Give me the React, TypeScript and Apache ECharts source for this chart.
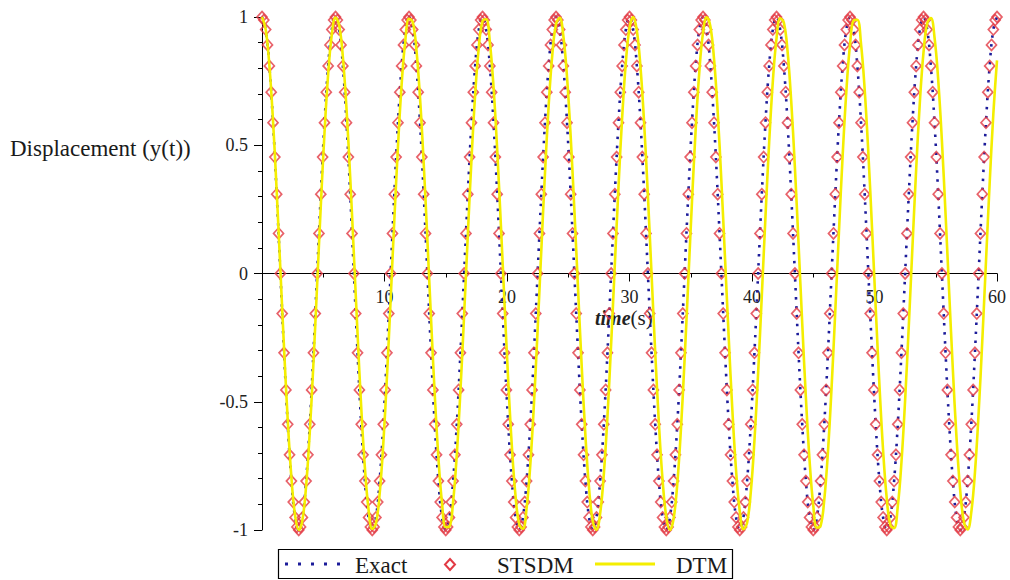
import React, { useEffect, useRef } from "react";
import * as echarts from "echarts";

// sampling steps (seconds) of each series
const EXACT_STEP = 0.3;
const STSDM_STEP = 0.15;
const DTM_STEP = 0.3;

// Exact solution, sampled every 0.3 s
const exactValues = [
  1,.951,.809,.588,.309,0,-.309,-.588,-.809,-.951,-1,-.951,-.809,-.588,-.309,0,.309,.588,.809,.951,
  1,.951,.809,.588,.309,0,-.309,-.588,-.809,-.951,-1,-.951,-.809,-.588,-.309,0,.309,.588,.809,.951,
  1,.951,.809,.588,.309,0,-.309,-.588,-.809,-.951,-1,-.951,-.809,-.588,-.309,0,.309,.588,.809,.951,
  1,.951,.809,.588,.309,0,-.309,-.588,-.809,-.951,-1,-.951,-.809,-.588,-.309,0,.309,.588,.809,.951,
  1,.951,.809,.588,.309,0,-.309,-.588,-.809,-.951,-1,-.951,-.809,-.588,-.309,0,.309,.588,.809,.951,
  1,.951,.809,.588,.309,0,-.309,-.588,-.809,-.951,-1,-.951,-.809,-.588,-.309,0,.309,.588,.809,.951,
  1,.951,.809,.588,.309,0,-.309,-.588,-.809,-.951,-1,-.951,-.809,-.588,-.309,0,.309,.588,.809,.951,
  1,.951,.809,.588,.309,0,-.309,-.588,-.809,-.951,-1,-.951,-.809,-.588,-.309,0,.309,.588,.809,.951,
  1,.951,.809,.588,.309,0,-.309,-.588,-.809,-.951,-1,-.951,-.809,-.588,-.309,0,.309,.588,.809,.951,
  1,.951,.809,.588,.309,0,-.309,-.588,-.809,-.951,-1,-.951,-.809,-.588,-.309,0,.309,.588,.809,.951,
  1,
];

// STSDM markers, every 0.15 s
const stsdmValues = [
  1,.988,.951,.891,.809,.707,.588,.454,.309,.156,0,-.156,-.309,-.454,-.588,-.707,-.809,-.891,-.951,-.988,-1,-.988,-.951,-.891,-.809,-.707,-.588,-.454,-.309,-.156,0,.156,.309,.454,.588,.707,.809,.891,.951,.988,
  1,.988,.951,.891,.809,.707,.588,.454,.309,.156,0,-.156,-.309,-.454,-.588,-.707,-.809,-.891,-.951,-.988,-1,-.988,-.951,-.891,-.809,-.707,-.588,-.454,-.309,-.156,0,.156,.309,.454,.588,.707,.809,.891,.951,.988,
  1,.988,.951,.891,.809,.707,.588,.454,.309,.156,0,-.156,-.309,-.454,-.588,-.707,-.809,-.891,-.951,-.988,-1,-.988,-.951,-.891,-.809,-.707,-.588,-.454,-.309,-.156,0,.156,.309,.454,.588,.707,.809,.891,.951,.988,
  1,.988,.951,.891,.809,.707,.588,.454,.309,.156,0,-.156,-.309,-.454,-.588,-.707,-.809,-.891,-.951,-.988,-1,-.988,-.951,-.891,-.809,-.707,-.588,-.454,-.309,-.156,0,.156,.309,.454,.588,.707,.809,.891,.951,.988,
  1,.988,.951,.891,.809,.707,.588,.454,.309,.156,0,-.156,-.309,-.454,-.588,-.707,-.809,-.891,-.951,-.988,-1,-.988,-.951,-.891,-.809,-.707,-.588,-.454,-.309,-.156,0,.156,.309,.454,.588,.707,.809,.891,.951,.988,
  1,.988,.951,.891,.809,.707,.588,.454,.309,.156,0,-.156,-.309,-.454,-.588,-.707,-.809,-.891,-.951,-.988,-1,-.988,-.951,-.891,-.809,-.707,-.588,-.454,-.309,-.156,0,.156,.309,.454,.588,.707,.809,.891,.951,.988,
  1,.988,.951,.891,.809,.707,.588,.454,.309,.156,0,-.156,-.309,-.454,-.588,-.707,-.809,-.891,-.951,-.988,-1,-.988,-.951,-.891,-.809,-.707,-.588,-.454,-.309,-.156,0,.156,.309,.454,.588,.707,.809,.891,.951,.988,
  1,.988,.951,.891,.809,.707,.588,.454,.309,.156,0,-.156,-.309,-.454,-.588,-.707,-.809,-.891,-.951,-.988,-1,-.988,-.951,-.891,-.809,-.707,-.588,-.454,-.309,-.156,0,.156,.309,.454,.588,.707,.809,.891,.951,.988,
  1,.988,.951,.891,.809,.707,.588,.454,.309,.156,0,-.156,-.309,-.454,-.588,-.707,-.809,-.891,-.951,-.988,-1,-.988,-.951,-.891,-.809,-.707,-.588,-.454,-.309,-.156,0,.156,.309,.454,.588,.707,.809,.891,.951,.988,
  1,.988,.951,.891,.809,.707,.588,.454,.309,.156,0,-.156,-.309,-.454,-.588,-.707,-.809,-.891,-.951,-.988,-1,-.988,-.951,-.891,-.809,-.707,-.588,-.454,-.309,-.156,0,.156,.309,.454,.588,.707,.809,.891,.951,.988,
  1,
];

// DTM solution (slowly lagging), every 0.3 s
const dtmValues = [
  1,.952,.812,.595,.320,.015,-.292,-.571,-.795,-.943,-1,-.961,-.829,-.618,-.348,-.044,.264,.547,.777,.932,
  .998,.968,.845,.641,.376,.074,-.235,-.522,-.758,-.921,-.996,-.975,-.861,-.664,-.403,-.103,.207,.496,.738,.909,
  .993,.981,.875,.685,.430,.132,-.178,-.470,-.718,-.897,-.989,-.987,-.889,-.707,-.456,-.161,.149,.444,.697,.883,
  .984,.991,.902,.727,.482,.190,-.119,-.418,-.676,-.869,-.979,-.995,-.915,-.747,-.508,-.219,.090,.391,.654,.854,
  .972,.997,.926,.766,.533,.248,-.061,-.363,-.631,-.838,-.965,-.999,-.937,-.785,-.558,-.276,.031,.336,.608,.822,
  .957,1,.947,.803,.582,.305,-.002,-.308,-.584,-.805,-.948,-1,-.956,-.820,-.606,-.333,-.028,.280,.560,.787,
  .938,.999,.964,.837,.629,.360,.057,-.251,-.535,-.768,-.927,-.997,-.972,-.853,-.651,-.388,-.087,.222,.510,.749,
  .916,.995,.978,.868,.673,.415,.116,-.194,-.485,-.729,-.904,-.991,-.984,-.882,-.695,-.441,-.145,.165,.459,.709,
  .891,.987,.989,.895,.716,.468,.175,-.135,-.432,-.688,-.877,-.982,-.993,-.908,-.736,-.493,-.203,.106,.405,.666,
  .862,.976,.996,.920,.756,.519,.232,-.077,-.378,-.644,-.847,-.969,-.998,-.931,-.775,-.544,-.261,.047,.351,.621,
  .831,
];

const X_MIN = 0;
const X_MAX = 60;
const X_INTERVAL = 10;
const Y_MIN = -1;
const Y_MAX = 1;
const Y_INTERVAL = 0.5;

const SERIF = "'Liberation Serif', 'DejaVu Serif', serif";

const GRID_TOP = 17;
const GRID_BOTTOM = 50;
const CHART_H = 580;

const toPairs = (vals: number[], step: number) =>
  vals.map((v, i) => [Number((i * step).toFixed(4)), v]);

export default function App() {
  const ref = useRef<HTMLDivElement>(null);

  useEffect(() => {
    if (!ref.current) return;
    const chart = echarts.init(ref.current, undefined, { renderer: "svg" });

    // move the x axis (line, ticks, labels) up to y = 0
    const plotH = CHART_H - GRID_TOP - GRID_BOTTOM;
    const zeroOffset = -plotH * ((0 - Y_MIN) / (Y_MAX - Y_MIN));

    const option: any = {
      animation: false,
      backgroundColor: "#ffffff",
      grid: { left: 262, right: 13, top: GRID_TOP, bottom: GRID_BOTTOM, containLabel: false },
      xAxis: {
        type: "value",
        min: X_MIN,
        max: X_MAX,
        interval: X_INTERVAL,
        offset: zeroOffset,
        axisLine: { show: true, onZero: false, lineStyle: { color: "#000", width: 1 } },
        axisTick: { show: true, length: 8, lineStyle: { color: "#000" } },
        minorTick: { show: true, splitNumber: 2, length: 4, lineStyle: { color: "#000" } },
        axisLabel: {
          showMinLabel: false,
          margin: 14,
          fontSize: 18,
          fontFamily: SERIF,
          color: "#222",
        },
        splitLine: { show: false },
      },
      yAxis: {
        type: "value",
        min: Y_MIN,
        max: Y_MAX,
        interval: Y_INTERVAL,
        axisLine: { show: true, onZero: false, lineStyle: { color: "#000", width: 1 } },
        axisTick: { show: true, length: 8, lineStyle: { color: "#000" } },
        minorTick: { show: true, splitNumber: 5, length: 4, lineStyle: { color: "#000" } },
        axisLabel: {
          margin: 14,
          fontSize: 18,
          fontFamily: SERIF,
          color: "#222",
        },
        splitLine: { show: false },
      },
      series: [
        {
          name: "Exact",
          type: "line",
          data: toPairs(exactValues, EXACT_STEP),
          showSymbol: false,
          smooth: 0.4,
          clip: false,
          z: 2,
          lineStyle: { color: "#1c1c9a", width: 2.6, type: [2.5, 6.5], cap: "butt" },
        },
        {
          name: "STSDM",
          type: "scatter",
          data: toPairs(stsdmValues, STSDM_STEP),
          symbol: "diamond",
          symbolSize: [10, 11],
          clip: false,
          z: 3,
          itemStyle: { color: "rgba(255,255,255,0)", borderColor: "#e23a44", borderWidth: 1.7 },
        },
        {
          name: "DTM",
          type: "line",
          data: toPairs(dtmValues, DTM_STEP),
          showSymbol: false,
          smooth: 0.4,
          clip: false,
          z: 4,
          lineStyle: { color: "#f4ee00", width: 2.6 },
        },
      ],
      graphic: [
        {
          type: "text",
          x: 10,
          y: 148,
          style: {
            text: "Displacement (y(t))",
            fontSize: 23,
            fontFamily: SERIF,
            fill: "#1a1a1a",
            verticalAlign: "middle",
          },
        },
        {
          type: "text",
          x: 595,
          y: 318,
          style: {
            text: "{a|time}{b|(s)}",
            verticalAlign: "middle",
            rich: {
              a: { fontSize: 20, fontStyle: "italic", fontWeight: "bold", fontFamily: SERIF, fill: "#222" },
              b: { fontSize: 21, fontFamily: SERIF, fill: "#222" },
            },
          },
        },
        {
          type: "rect",
          shape: { x: 278.5, y: 549.5, width: 454, height: 29 },
          style: { fill: "#fff", stroke: "#000", lineWidth: 1.2 },
        },
        {
          type: "line",
          shape: { x1: 285, y1: 564, x2: 340, y2: 564 },
          style: { stroke: "#1c1c9a", lineWidth: 3, lineDash: [3, 10] },
        },
        {
          type: "text",
          x: 355,
          y: 565,
          style: { text: "Exact", fontSize: 23, fontFamily: SERIF, fill: "#1a1a1a", verticalAlign: "middle" },
        },
        {
          type: "polygon",
          shape: { points: [[450, 559], [455, 564.5], [450, 570], [445, 564.5]] },
          style: { fill: "#fff", stroke: "#e23a44", lineWidth: 2 },
        },
        {
          type: "text",
          x: 497,
          y: 565,
          style: { text: "STSDM", fontSize: 23, fontFamily: SERIF, fill: "#1a1a1a", verticalAlign: "middle" },
        },
        {
          type: "line",
          shape: { x1: 595, y1: 564, x2: 655, y2: 564 },
          style: { stroke: "#f4ee00", lineWidth: 3 },
        },
        {
          type: "text",
          x: 676,
          y: 565,
          style: { text: "DTM", fontSize: 23, fontFamily: SERIF, fill: "#1a1a1a", verticalAlign: "middle" },
        },
      ],
    };

    chart.setOption(option);
    return () => chart.dispose();
  }, []);

  return (
    <div
      ref={ref}
      style={{ position: "absolute", left: 0, top: 0, width: 1010, height: 580, background: "#fff" }}
    />
  );
}
